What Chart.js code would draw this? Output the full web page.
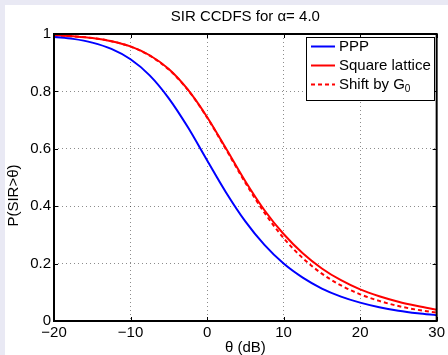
<!DOCTYPE html>
<html>
<head>
<meta charset="utf-8">
<script src="https://cdn.jsdelivr.net/npm/chart.js@4.4.1/dist/chart.umd.min.js"></script>
<style>
  html, body { margin: 0; padding: 0; background: #e9e9f4; }
  #wrap { position: absolute; left: 5px; top: 5px; width: 443px; height: 350px; background: #fff; }
</style>
</head>
<body>
<div id="wrap"><canvas id="sirChart" width="443" height="350"></canvas></div>
<script>
// θ in dB
const thetaDb = [-20, -17.5, -15, -12.5, -10, -7.5, -5, -2.5, 0, 2.5, 5,
                 7.5, 10, 12.5, 15, 17.5, 20, 22.5, 25, 27.5, 30];

// P(SIR > θ)
const pppValues = [0.990, 0.983, 0.970, 0.948, 0.912, 0.856, 0.776, 0.675, 0.560, 0.447, 0.347,
                   0.265, 0.200, 0.151, 0.113, 0.085, 0.064, 0.048, 0.036, 0.027, 0.020];
const latticeValues = [0.996, 0.992, 0.986, 0.975, 0.957, 0.926, 0.878, 0.806, 0.711, 0.600, 0.487,
                       0.386, 0.303, 0.236, 0.183, 0.142, 0.110, 0.086, 0.067, 0.052, 0.039];
const shiftValues = [0.995, 0.992, 0.986, 0.975, 0.956, 0.925, 0.876, 0.805, 0.709, 0.597, 0.482,
                     0.377, 0.289, 0.219, 0.165, 0.124, 0.093, 0.070, 0.052, 0.039, 0.029];

const seriesLabels = ['PPP', 'Square lattice', 'Shift by G_0'];

const xTickValues = [-20, -10, 0, 10, 20, 30];
const xTickLabels = ['\u221220', '\u221210', '0', '10', '20', '30'];
const yTickValues = [0, 0.2, 0.4, 0.6, 0.8, 1];
const yTickLabels = ['0', '0.2', '0.4', '0.6', '0.8', '1'];
const yTitle = 'P(SIR>\u03b8)';

const FONT = '"Liberation Sans", Arial, Helvetica, sans-serif';

function toPoints(values) {
  return thetaDb.map((t, i) => ({ x: t, y: values[i] }));
}

// matlab style box, inward ticks, y label and legend
const matlabBox = {
  id: 'matlabBox',
  afterDraw(chart) {
    const { ctx, chartArea: a, scales } = chart;
    const x = scales.x, y = scales.y;
    ctx.save();

    ctx.strokeStyle = '#000';
    ctx.lineWidth = 1;
    ctx.beginPath();
    xTickValues.forEach(v => {
      const px = Math.round(x.getPixelForValue(v)) + 0.5;
      ctx.moveTo(px, a.bottom); ctx.lineTo(px, a.bottom - 4);
      ctx.moveTo(px, a.top); ctx.lineTo(px, a.top + 4);
    });
    yTickValues.forEach(v => {
      const py = Math.round(y.getPixelForValue(v)) + 0.5;
      ctx.moveTo(a.left, py); ctx.lineTo(a.left + 4, py);
      ctx.moveTo(a.right, py); ctx.lineTo(a.right - 4, py);
    });
    ctx.stroke();

    ctx.lineWidth = 2;
    ctx.strokeRect(a.left, a.top, a.right - a.left, a.bottom - a.top);

    // y label sits a bit below the axis middle in the original
    ctx.save();
    ctx.translate(9, (a.top + a.bottom) / 2 + 18);
    ctx.rotate(-Math.PI / 2);
    ctx.font = '15px ' + FONT;
    ctx.fillStyle = '#000';
    ctx.textAlign = 'center';
    ctx.textBaseline = 'middle';
    ctx.fillText(yTitle, 0, 0);
    ctx.restore();

    // legend
    const mainFont = '15px ' + FONT;
    const subFont = '10px ' + FONT;
    const parts = chart.data.datasets.map(ds => ds.label.split('_'));
    let maxW = 0;
    parts.forEach(p => {
      ctx.font = mainFont;
      let w = ctx.measureText(p[0]).width;
      if (p[1]) { ctx.font = subFont; w += ctx.measureText(p[1]).width; }
      maxW = Math.max(maxW, w);
    });
    const boxW = Math.round(33 + maxW + 3);
    const boxH = 63;
    const bx = Math.round(a.right - 3 - boxW);
    const by = Math.round(a.top + 3);
    ctx.fillStyle = '#fff';
    ctx.fillRect(bx, by, boxW, boxH);
    ctx.lineWidth = 1;
    ctx.strokeStyle = '#000';
    ctx.strokeRect(bx + 0.5, by + 0.5, boxW, boxH);

    chart.data.datasets.forEach((ds, i) => {
      const cy = by + 9.5 + i * 19;
      ctx.strokeStyle = ds.borderColor;
      ctx.lineWidth = 2;
      ctx.setLineDash(ds.borderDash || []);
      ctx.beginPath();
      ctx.moveTo(bx + 5, cy); ctx.lineTo(bx + 29, cy);
      ctx.stroke();
      ctx.setLineDash([]);

      const p = parts[i];
      ctx.fillStyle = '#000';
      ctx.textBaseline = 'middle';
      ctx.textAlign = 'left';
      ctx.font = mainFont;
      ctx.fillText(p[0], bx + 33, cy);
      if (p[1]) {
        const w = ctx.measureText(p[0]).width;
        ctx.font = subFont;
        ctx.fillText(p[1], bx + 33 + w, cy + 5);
      }
    });
    ctx.restore();
  }
};

const ctx = document.getElementById('sirChart').getContext('2d');

new Chart(ctx, {
  type: 'line',
  data: {
    datasets: [{
      label: seriesLabels[0],
      data: toPoints(pppValues),
      borderColor: '#0000ff',
      borderWidth: 2,
      pointRadius: 0,
      fill: false,
      cubicInterpolationMode: 'monotone'
    }, {
      label: seriesLabels[1],
      data: toPoints(latticeValues),
      borderColor: '#ff0000',
      borderWidth: 2,
      pointRadius: 0,
      fill: false,
      cubicInterpolationMode: 'monotone'
    }, {
      label: seriesLabels[2],
      data: toPoints(shiftValues),
      borderColor: '#ff0000',
      borderDash: [4, 3],
      borderWidth: 2,
      pointRadius: 0,
      fill: false,
      cubicInterpolationMode: 'monotone'
    }]
  },
  options: {
    responsive: false,
    animation: false,
    devicePixelRatio: 1,
    layout: { padding: { left: 0, right: 9, top: 0, bottom: 0 } },
    plugins: {
      legend: { display: false },
      tooltip: { enabled: false },
      title: {
        display: true,
        text: 'SIR CCDFS for \u03b1= 4.0',
        color: '#000',
        fullSize: false,
        font: { family: FONT, size: 15, weight: 'normal', lineHeight: 1 },
        padding: { top: 4.5, bottom: 9.5 }
      }
    },
    scales: {
      x: {
        type: 'linear',
        min: -20,
        max: 30,
        afterBuildTicks: s => { s.ticks = xTickValues.map(v => ({ value: v })); },
        afterFit: s => { s.height = 34; },
        ticks: {
          color: '#000',
          padding: 3,
          maxRotation: 0,
          font: { family: FONT, size: 15 },
          callback: (v, i) => xTickLabels[i]
        },
        grid: { color: 'rgba(0,0,0,0.45)', lineWidth: 1, drawTicks: false },
        border: { display: false, dash: [1, 3] },
        title: {
          display: true,
          text: '\u03b8 (dB)',
          color: '#000',
          font: { family: FONT, size: 15, lineHeight: 1 },
          padding: { top: 0, bottom: 0 }
        }
      },
      y: {
        min: 0,
        max: 1,
        afterBuildTicks: s => { s.ticks = yTickValues.map(v => ({ value: v })); },
        afterFit: s => { s.width = 49; },
        ticks: {
          color: '#000',
          padding: 3,
          font: { family: FONT, size: 15 },
          callback: (v, i) => yTickLabels[i]
        },
        grid: { color: 'rgba(0,0,0,0.45)', lineWidth: 1, drawTicks: false },
        border: { display: false, dash: [1, 3] },
        title: { display: false }
      }
    }
  },
  plugins: [matlabBox]
});
</script>
</body>
</html>
